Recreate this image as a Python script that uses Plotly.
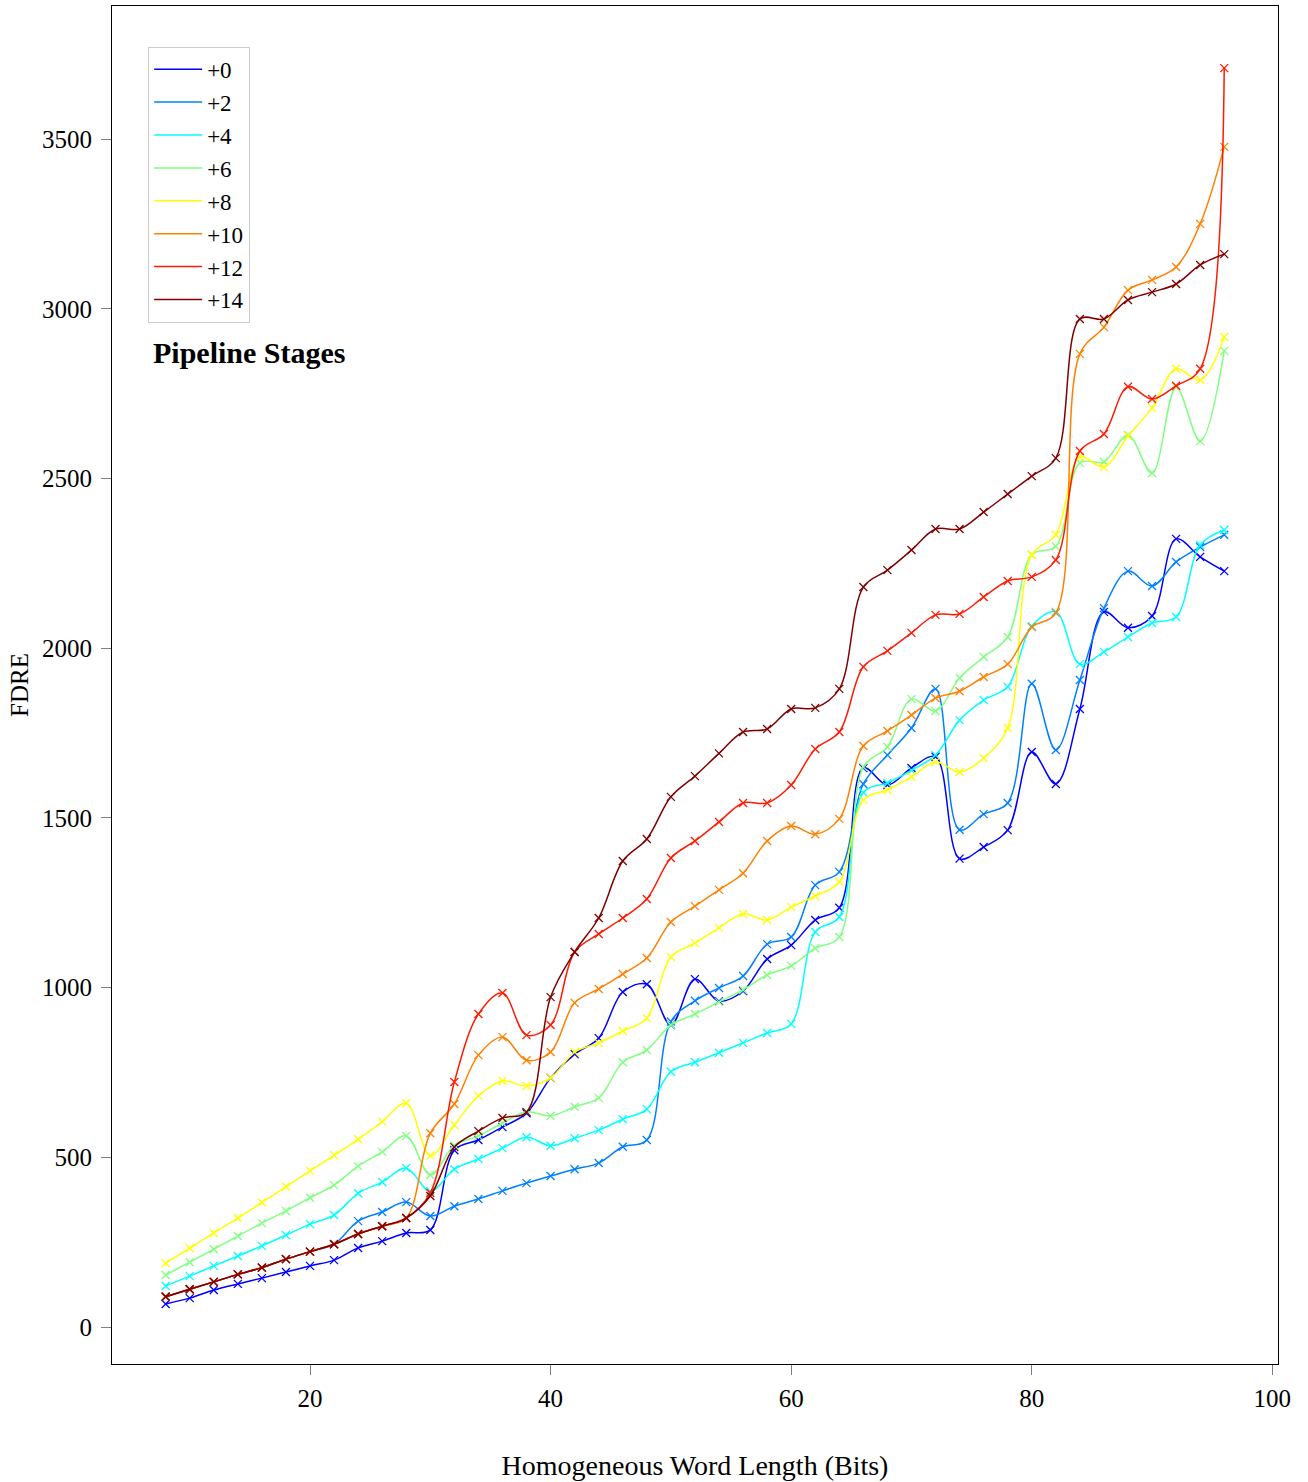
import plotly.graph_objects as go

# Word length sweep (bits)
word_length = list(range(8, 97, 2))

stage_labels = ["+0", "+2", "+4", "+6", "+8", "+10", "+12", "+14"]
stage_colors = ["#0000ff", "#0080ff", "#00ffff", "#80ff80",
                "#ffff00", "#ff8000", "#ff1a00", "#800000"]

fdre_p0 = [68, 85, 109, 127, 144, 162, 180, 197, 233, 253, 277, 286,
           521, 551, 589, 630, 734, 804, 851, 987, 1010, 890, 1025, 960, 990, 1084, 1125, 1199, 1235,
           1647, 1597, 1647, 1680, 1380, 1414, 1464, 1694, 1600, 1821, 2107, 2060, 2095, 2322, 2269, 2227]
fdre_p2 = [89, 111, 133, 155, 175, 200, 222, 244, 312, 339, 368, 327,
           356, 377, 401, 424, 445, 465, 483, 531, 551, 900, 961, 999, 1034, 1128, 1149, 1302, 1341,
           1600, 1685, 1765, 1880, 1465, 1511, 1544, 1895, 1700, 1906, 2118, 2227, 2183, 2254, 2298, 2334]
fdre_p4 = [121, 150, 180, 209, 239, 271, 303, 330, 394, 427, 468, 400,
           465, 495, 527, 559, 534, 556, 580, 612, 642, 752, 780, 808, 837, 866, 893, 1164, 1208,
           1575, 1603, 1640, 1685, 1788, 1847, 1886, 2065, 2107, 1953, 1989, 2033, 2074, 2092, 2304, 2348]
fdre_p6 = [153, 191, 229, 268, 306, 342, 381, 418, 474, 516, 563, 448,
           535, 563, 601, 634, 622, 649, 675, 780, 816, 890, 922, 958, 993, 1037, 1064, 1116, 1149,
           1650, 1709, 1850, 1815, 1912, 1974, 2033, 2275, 2300, 2546, 2549, 2628, 2516, 2769, 2610, 2876]
fdre_p8 = [188, 232, 277, 321, 367, 413, 460, 506, 553, 605, 659, 505,
           595, 681, 725, 710, 734, 810, 837, 872, 910, 1090, 1131, 1176, 1217, 1199, 1237, 1270, 1311,
           1553, 1582, 1621, 1665, 1635, 1676, 1765, 2275, 2334, 2563, 2534, 2625, 2708, 2823, 2790, 2917]
fdre_p10 = [89, 111, 133, 155, 175, 200, 222, 244, 274, 297, 321, 571,
            657, 801, 854, 786, 810, 955, 996, 1040, 1087, 1193, 1240, 1288, 1337, 1432, 1476, 1452, 1497,
            1712, 1756, 1803, 1853, 1873, 1915, 1953, 2062, 2104, 2867, 2946, 3055, 3085, 3123, 3250, 3477]
fdre_p12 = [89, 111, 133, 155, 175, 200, 222, 244, 274, 297, 321, 395,
            722, 922, 984, 860, 890, 1105, 1158, 1205, 1261, 1382, 1432, 1488, 1544, 1544, 1597, 1703, 1753,
            1945, 1992, 2045, 2098, 2101, 2151, 2198, 2210, 2260, 2581, 2631, 2770, 2734, 2773, 2823, 3709]
fdre_p14 = [89, 111, 133, 155, 175, 200, 222, 244, 274, 297, 321, 386,
            530, 577, 616, 633, 972, 1105, 1205, 1373, 1438, 1562, 1623, 1690, 1753, 1762, 1821, 1824, 1880,
            2180, 2230, 2289, 2351, 2351, 2401, 2454, 2507, 2560, 2970, 2970, 3026, 3049, 3073, 3129, 3161]

series = [fdre_p0, fdre_p2, fdre_p4, fdre_p6, fdre_p8, fdre_p10, fdre_p12, fdre_p14]

FONT = "Liberation Serif, DejaVu Serif, serif"

fig = go.Figure()

for label, color, values in zip(stage_labels, stage_colors, series):
    fig.add_trace(go.Scatter(
        x=word_length, y=values, name=label, showlegend=False,
        mode="lines+markers",
        line=dict(color=color, width=1.5, shape="spline", smoothing=1.0),
        marker=dict(symbol="x-thin", size=8, color=color,
                    line=dict(color=color, width=1.3)),
    ))

# Legend entries show the line style only
for label, color in zip(stage_labels, stage_colors):
    fig.add_trace(go.Scatter(
        x=[None], y=[None], name=label, mode="lines",
        line=dict(color=color, width=1.5), showlegend=True,
    ))

axis_common = dict(
    showgrid=False, zeroline=False,
    showline=True, linecolor="black", linewidth=1.2, mirror=True,
    ticks="outside", ticklen=10, tickwidth=1.3, tickcolor="#808080",
    tickfont=dict(family=FONT, size=25),
)

fig.update_layout(
    width=1308, height=1482,
    margin=dict(l=112, r=30, t=6, b=118),
    paper_bgcolor="white", plot_bgcolor="white",
    font=dict(family=FONT, size=25, color="black"),
    showlegend=True,
    legend=dict(
        x=0.031, y=0.970, xanchor="left", yanchor="top",
        bgcolor="white", bordercolor="#cccccc", borderwidth=1,
        font=dict(family=FONT, size=23),
        tracegroupgap=0, itemwidth=48,
    ),
    xaxis=dict(
        range=[3.54, 100.47], tickvals=[20, 40, 60, 80, 100],
        ticklabelstandoff=2,
        title=dict(text="Homogeneous Word Length (Bits)", standoff=44,
                   font=dict(family=FONT, size=28)),
        **axis_common,
    ),
    yaxis=dict(
        range=[-109, 3892], tickvals=[0, 500, 1000, 1500, 2000, 2500, 3000, 3500],
        ticklabelstandoff=4,
        title=dict(text="FDRE", standoff=6, font=dict(family=FONT, size=25)),
        **axis_common,
    ),
    annotations=[dict(
        text="<b>Pipeline Stages</b>", x=0.0334, y=0.745,
        xref="paper", yref="paper", xanchor="left", yanchor="middle",
        showarrow=False, font=dict(family=FONT, size=30),
    )],
)

fig.write_html("out.html")
